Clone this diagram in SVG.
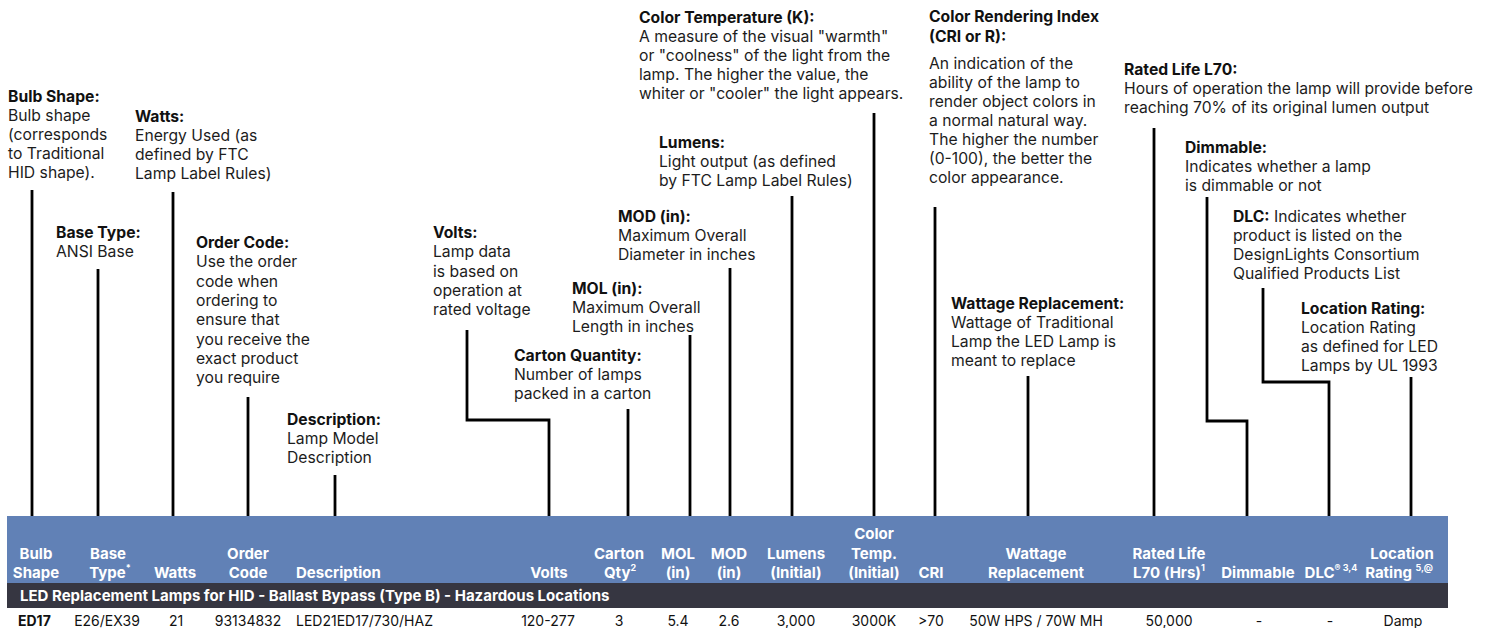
<svg xmlns="http://www.w3.org/2000/svg" width="1492" height="628" viewBox="0 0 1492 628">
<style>
text{font-family:Inter,"Liberation Sans",Arial,sans-serif}
.t{font-size:15.7px;fill:#1c1c1c}
.b{font-weight:700;fill:#111}
.h{font-size:15px;font-weight:700;fill:#fff;text-anchor:middle}
.hl{font-size:15px;font-weight:700;fill:#fff}
.d{font-size:14px;fill:#111;text-anchor:middle}
.dl{font-size:14px;fill:#111}
.ln{stroke:#000;stroke-width:2.8;fill:none}
.sup{font-size:9px}
</style>
<rect x="0" y="0" width="1492" height="628" fill="#fff"/>

<g id="connectors">
<path class="ln" d="M32 190V516"/>
<path class="ln" d="M98 269V516"/>
<path class="ln" d="M173 192V516"/>
<path class="ln" d="M248 397V516"/>
<path class="ln" d="M335 475V516"/>
<path class="ln" d="M467 330V420H549V516"/>
<path class="ln" d="M628 409V516"/>
<path class="ln" d="M690 335V516"/>
<path class="ln" d="M730 268V516"/>
<path class="ln" d="M792 196V516"/>
<path class="ln" d="M874 113V516"/>
<path class="ln" d="M935 207V516"/>
<path class="ln" d="M1028 376V516"/>
<path class="ln" d="M1154 128V516"/>
<path class="ln" d="M1207 197V421H1247V516"/>
<path class="ln" d="M1263 288V382H1329V516"/>
<path class="ln" d="M1411 377V516"/>
</g>

<g id="bulb-shape">
<text class="t" x="8" y="102"><tspan class="b">Bulb Shape:</tspan><tspan x="8" dy="19">Bulb shape</tspan><tspan x="8" dy="19">(corresponds</tspan><tspan x="8" dy="19">to Traditional</tspan><tspan x="8" dy="19">HID shape).</tspan></text>
</g>
<g id="watts">
<text class="t" x="135" y="122"><tspan class="b">Watts:</tspan><tspan x="135" dy="19">Energy Used (as</tspan><tspan x="135" dy="19">defined by FTC</tspan><tspan x="135" dy="19">Lamp Label Rules)</tspan></text>
</g>
<g id="base-type">
<text class="t" x="56" y="238"><tspan class="b">Base Type:</tspan><tspan x="56" dy="19">ANSI Base</tspan></text>
</g>
<g id="order-code">
<text class="t" x="196" y="248"><tspan class="b">Order Code:</tspan><tspan x="196" dy="19.3">Use the order</tspan><tspan x="196" dy="19.3">code when</tspan><tspan x="196" dy="19.3">ordering to</tspan><tspan x="196" dy="19.3">ensure that</tspan><tspan x="196" dy="19.3">you receive the</tspan><tspan x="196" dy="19.3">exact product</tspan><tspan x="196" dy="19.3">you require</tspan></text>
</g>
<g id="description">
<text class="t" x="287" y="425"><tspan class="b">Description:</tspan><tspan x="287" dy="19">Lamp Model</tspan><tspan x="287" dy="19">Description</tspan></text>
</g>
<g id="volts">
<text class="t" x="433" y="238"><tspan class="b">Volts:</tspan><tspan x="433" dy="19.3">Lamp data</tspan><tspan x="433" dy="19.3">is based on</tspan><tspan x="433" dy="19.3">operation at</tspan><tspan x="433" dy="19.3">rated voltage</tspan></text>
</g>
<g id="carton-quantity">
<text class="t" x="514" y="361"><tspan class="b">Carton Quantity:</tspan><tspan x="514" dy="19">Number of lamps</tspan><tspan x="514" dy="19">packed in a carton</tspan></text>
</g>
<g id="mol">
<text class="t" x="572" y="294"><tspan class="b">MOL (in):</tspan><tspan x="572" dy="19">Maximum Overall</tspan><tspan x="572" dy="19">Length in inches</tspan></text>
</g>
<g id="mod">
<text class="t" x="618" y="222"><tspan class="b">MOD (in):</tspan><tspan x="618" dy="19">Maximum Overall</tspan><tspan x="618" dy="19">Diameter in inches</tspan></text>
</g>
<g id="lumens">
<text class="t" x="659" y="148"><tspan class="b">Lumens:</tspan><tspan x="659" dy="19">Light output (as defined</tspan><tspan x="659" dy="19">by FTC Lamp Label Rules)</tspan></text>
</g>
<g id="color-temperature">
<text class="t" x="639" y="23"><tspan class="b">Color Temperature (K):</tspan><tspan x="639" dy="19">A measure of the visual "warmth"</tspan><tspan x="639" dy="19">or "coolness" of the light from the</tspan><tspan x="639" dy="19">lamp. The higher the value, the</tspan><tspan x="639" dy="19">whiter or "cooler" the light appears.</tspan></text>
</g>
<g id="cri">
<text class="t" x="929" y="22"><tspan class="b">Color Rendering Index</tspan><tspan x="929" dy="20" class="b">(CRI or R):</tspan><tspan x="929" dy="27">An indication of the</tspan><tspan x="929" dy="19">ability of the lamp to</tspan><tspan x="929" dy="19">render object colors in</tspan><tspan x="929" dy="19">a normal natural way.</tspan><tspan x="929" dy="19">The higher the number</tspan><tspan x="929" dy="19">(0-100), the better the</tspan><tspan x="929" dy="19">color appearance.</tspan></text>
</g>
<g id="rated-life">
<text class="t" x="1124" y="75"><tspan class="b">Rated Life L70:</tspan><tspan x="1124" dy="19">Hours of operation the lamp will provide before</tspan><tspan x="1124" dy="19">reaching 70% of its original lumen output</tspan></text>
</g>
<g id="dimmable">
<text class="t" x="1185" y="153"><tspan class="b">Dimmable:</tspan><tspan x="1185" dy="19">Indicates whether a lamp</tspan><tspan x="1185" dy="19">is dimmable or not</tspan></text>
</g>
<g id="dlc">
<text class="t" x="1233" y="222"><tspan class="b">DLC:</tspan> Indicates whether<tspan x="1233" dy="19">product is listed on the</tspan><tspan x="1233" dy="19">DesignLights Consortium</tspan><tspan x="1233" dy="19">Qualified Products List</tspan></text>
</g>
<g id="wattage-replacement">
<text class="t" x="951" y="309"><tspan class="b">Wattage Replacement:</tspan><tspan x="951" dy="19">Wattage of Traditional</tspan><tspan x="951" dy="19">Lamp the LED Lamp is</tspan><tspan x="951" dy="19">meant to replace</tspan></text>
</g>
<g id="location-rating">
<text class="t" x="1301" y="314"><tspan class="b">Location Rating:</tspan><tspan x="1301" dy="19">Location Rating</tspan><tspan x="1301" dy="19">as defined for LED</tspan><tspan x="1301" dy="19">Lamps by UL 1993</tspan></text>
</g>

<g id="table">
<rect x="7" y="516" width="1441" height="67" fill="#6181b6"/>
<rect x="7" y="583" width="1441" height="25" fill="#363641"/>
<text class="h" x="36" y="559">Bulb</text><text class="h" x="36" y="578">Shape</text>
<text class="h" x="108" y="559">Base</text><text class="h" x="110" y="578">Type<tspan class="sup" dy="-7">*</tspan></text>
<text class="h" x="175" y="578">Watts</text>
<text class="h" x="248" y="559">Order</text><text class="h" x="248" y="578">Code</text>
<text class="hl" x="296" y="578">Description</text>
<text class="h" x="549" y="578">Volts</text>
<text class="h" x="619" y="559">Carton</text><text class="h" x="620" y="578">Qty<tspan class="sup" dy="-7">2</tspan></text>
<text class="h" x="678" y="559">MOL</text><text class="h" x="678" y="578">(in)</text>
<text class="h" x="729" y="559">MOD</text><text class="h" x="729" y="578">(in)</text>
<text class="h" x="796" y="559">Lumens</text><text class="h" x="796" y="578">(Initial)</text>
<text class="h" x="874" y="539">Color</text><text class="h" x="874" y="559">Temp.</text><text class="h" x="874" y="578">(Initial)</text>
<text class="h" x="931" y="578">CRI</text>
<text class="h" x="1036" y="559">Wattage</text><text class="h" x="1036" y="578">Replacement</text>
<text class="h" x="1169" y="559">Rated Life</text><text class="h" x="1169" y="578">L70 (Hrs)<tspan class="sup" dy="-7">1</tspan></text>
<text class="h" x="1258" y="578">Dimmable</text>
<text class="h" x="1331" y="578">DLC<tspan class="sup" dy="-7">® 3,4</tspan></text>
<text class="h" x="1402" y="559">Location</text><text class="h" x="1399" y="578">Rating <tspan class="sup" dy="-7">5,@</tspan></text>
<text class="hl" x="20" y="601">LED Replacement Lamps for HID - Ballast Bypass (Type B) - Hazardous Locations</text>
<text class="dl" x="18" y="626" font-weight="700">ED17</text>
<text class="d" x="107" y="626">E26/EX39</text>
<text class="d" x="176" y="626">21</text>
<text class="d" x="248" y="626">93134832</text>
<text class="dl" x="296" y="626">LED21ED17/730/HAZ</text>
<text class="d" x="548" y="626">120-277</text>
<text class="d" x="619" y="626">3</text>
<text class="d" x="678" y="626">5.4</text>
<text class="d" x="729" y="626">2.6</text>
<text class="d" x="796" y="626">3,000</text>
<text class="d" x="874" y="626">3000K</text>
<text class="d" x="931" y="626">&gt;70</text>
<text class="d" x="1036" y="626">50W HPS / 70W MH</text>
<text class="d" x="1169" y="626">50,000</text>
<text class="d" x="1259" y="626">-</text>
<text class="d" x="1330" y="626">-</text>
<text class="d" x="1403" y="626">Damp</text>
</g>
</svg>
